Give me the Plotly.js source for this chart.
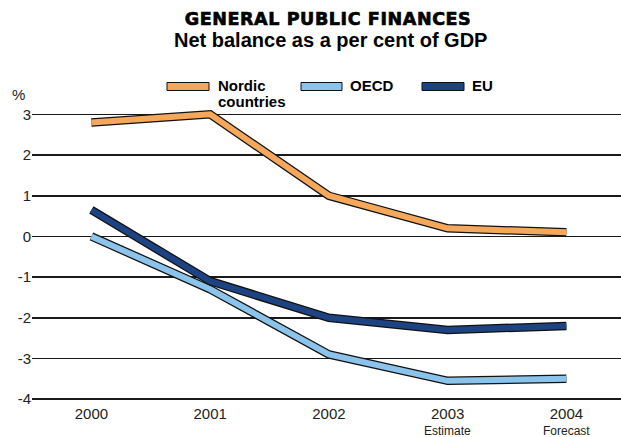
<!DOCTYPE html>
<html>
<head>
<meta charset="utf-8">
<script src="https://cdn.plot.ly/plotly-3.0.1.min.js"></script>
<style>
  html, body { margin: 0; padding: 0; background: #fff; }
  #chart { width: 621px; height: 437px; }
  .gtitle { letter-spacing: 0.6px; stroke: #000; stroke-width: 0.7px; }
</style>
</head>
<body>
<div id="chart"></div>
<script>
// ---- data ----
const years = ["2000", "2001", "2002", "2003", "2004"];
const tickLabels = ["2000", "2001", "2002", "2003", "2004"];
const tickNotes = ["", "", "", "Estimate", "Forecast"];
const nordic = [2.8, 3.0, 1.0, 0.2, 0.1];
const oecd = [0.0, -1.3, -2.9, -3.55, -3.5];
const eu = [0.65, -1.1, -2.0, -2.3, -2.2];
const seriesNames = ["Nordic countries", "OECD", "EU"];
const seriesColors = ["#F5A85C", "#8CC3EB", "#1E4382"];
const yTicks = [3, 2, 1, 0, -1, -2, -3, -4];

const xIdx = years.map((_, i) => i);
const allSeries = [nordic, oecd, eu];

const traces = [];
allSeries.forEach((vals, k) => {
  traces.push({
    x: xIdx, y: vals, type: "scatter", mode: "lines",
    line: { color: "#111", width: 8.5 },
    showlegend: false, hoverinfo: "skip"
  });
  traces.push({
    x: xIdx, y: vals, type: "scatter", mode: "lines", name: seriesNames[k],
    line: { color: seriesColors[k], width: 6 },
    showlegend: false
  });
});

// plot area geometry (for legend placement in paper coords)
const L = 32, R = 0, T = 105, B = 35, W = 621, H = 437;
const pw = W - L - R, ph = H - T - B;
const px = v => (v - L) / pw;
const py = v => (H - B - v) / ph;

// legend boxes
const legendBoxes = [[167, 209], [301, 342], [422, 464]];
const shapes = legendBoxes.map((b, k) => ({
  type: "rect", xref: "paper", yref: "paper",
  x0: px(b[0]), x1: px(b[1]), y0: py(90.5), y1: py(82.5),
  fillcolor: seriesColors[k], line: { color: "#111", width: 1 }
}));

const legFont = { family: "Liberation Sans, Arial, sans-serif", size: 15, color: "#000" };
const annotations = [
  { text: "<b>Nordic</b>", x: px(216), y: py(85), xref: "paper", yref: "paper", xanchor: "left", yanchor: "middle", showarrow: false, font: legFont },
  { text: "<b>countries</b>", x: px(216), y: py(101.5), xref: "paper", yref: "paper", xanchor: "left", yanchor: "middle", showarrow: false, font: legFont },
  { text: "<b>OECD</b>", x: px(348), y: py(85), xref: "paper", yref: "paper", xanchor: "left", yanchor: "middle", showarrow: false, font: legFont },
  { text: "<b>EU</b>", x: px(470), y: py(85), xref: "paper", yref: "paper", xanchor: "left", yanchor: "middle", showarrow: false, font: legFont },
  { text: "%", x: px(18.5), y: py(94), xref: "paper", yref: "paper", xanchor: "center", yanchor: "middle", showarrow: false,
    font: { family: "Liberation Sans, Arial, sans-serif", size: 15, color: "#222" } },
  { text: "<b>Net balance as a per cent of GDP</b>", x: px(330), y: py(40), xref: "paper", yref: "paper", xanchor: "center", yanchor: "middle", showarrow: false,
    font: { family: "Liberation Sans, Arial, sans-serif", size: 20, color: "#000" } }
];
tickNotes.forEach((t, i) => {
  if (t) annotations.push({
    text: t, x: i, xref: "x", y: py(430.5), yref: "paper", xanchor: "center", yanchor: "middle", showarrow: false,
    font: { family: "Liberation Sans, Arial, sans-serif", size: 12, color: "#222" }
  });
});

const layout = {
  width: W, height: H,
  margin: { l: L, r: R, t: T, b: B, pad: 0 },
  paper_bgcolor: "#fff", plot_bgcolor: "#fff",
  title: {
    text: "<b>GENERAL PUBLIC FINANCES</b>",
    x: 328 / 621, xanchor: "center", xref: "container",
    y: 1 - 18.5 / 437, yanchor: "middle", yref: "container",
    font: { family: "DejaVu Sans, sans-serif", size: 17.5, color: "#000" }
  },
  showlegend: false,
  xaxis: {
    range: [-0.5, 4.46], tickvals: xIdx, ticktext: tickLabels,
    showgrid: false, zeroline: false, showline: false, ticks: "",
    ticklabelstandoff: 1,
    tickfont: { family: "Liberation Sans, Arial, sans-serif", size: 15, color: "#222" },
    fixedrange: true
  },
  yaxis: {
    range: [-4.07, 3.23], tickvals: yTicks, ticktext: yTicks.map(String),
    showgrid: true, gridcolor: "#1a1a1a", gridwidth: 1.6,
    zeroline: true, zerolinecolor: "#1a1a1a", zerolinewidth: 1.6,
    showline: false, ticks: "",
    tickfont: { family: "Liberation Sans, Arial, sans-serif", size: 15, color: "#222" },
    fixedrange: true
  },
  shapes: shapes,
  annotations: annotations
};

Plotly.newPlot("chart", traces, layout, { displayModeBar: false, staticPlot: true });
</script>
</body>
</html>
